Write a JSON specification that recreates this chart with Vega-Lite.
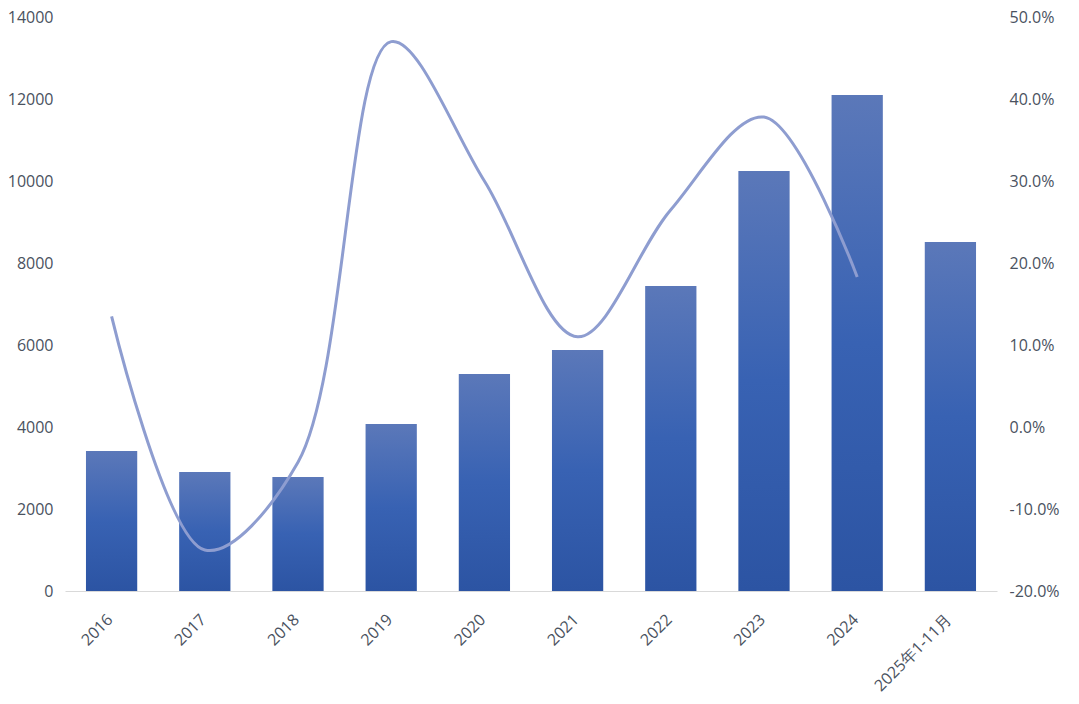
{
  "$schema": "https://vega.github.io/schema/vega-lite/v6.json",
  "autosize": "none",
  "width": 932,
  "height": 574,
  "padding": {"left": 65, "top": 17, "right": 82, "bottom": 113},
  "background": "white",
  "config": {
    "view": {"stroke": null},
    "font": "Open Sans",
    "axis": {"labelFont": "Open Sans", "labelColor": "#4a5260", "labelFontSize": 16, "grid": false, "ticks": false, "title": null, "labelOverlap": false, "labelFlush": false}
  },
  "data": {
    "values": [
      {"year": "2016", "value": 3415, "growth": 0.135},
      {"year": "2017", "value": 2900, "growth": -0.150},
      {"year": "2018", "value": 2780, "growth": -0.043},
      {"year": "2019", "value": 4073, "growth": 0.470},
      {"year": "2020", "value": 5293, "growth": 0.300},
      {"year": "2021", "value": 5878, "growth": 0.110},
      {"year": "2022", "value": 7439, "growth": 0.265},
      {"year": "2023", "value": 10244, "growth": 0.378},
      {"year": "2024", "value": 12098, "growth": 0.183},
      {"year": "2025年1-11月", "value": 8512, "growth": null}
    ]
  },
  "encoding": {
    "x": {
      "field": "year", "type": "ordinal", "sort": null,
      "scale": {"paddingInner": 0.45, "paddingOuter": 0.225},
      "axis": {"labelAngle": -45, "labelPadding": 20, "labelOffset": -7, "domainColor": "#d9d9d9", "domainWidth": 1}
    }
  },
  "layer": [
    {
      "mark": {
        "type": "bar",
        "color": {
          "gradient": "linear", "x1": 0, "y1": 0, "x2": 0, "y2": 1,
          "stops": [
            {"offset": 0, "color": "#5b78b9"},
            {"offset": 0.5, "color": "#3862b3"},
            {"offset": 1, "color": "#2c54a3"}
          ]
        }
      },
      "encoding": {
        "y": {
          "field": "value", "type": "quantitative",
          "scale": {"domain": [0, 14000], "nice": false},
          "axis": {"values": [0, 2000, 4000, 6000, 8000, 10000, 12000, 14000], "format": "d", "domain": false, "labelPadding": 12}
        }
      }
    },
    {
      "transform": [{"filter": "datum.growth != null"}],
      "mark": {"type": "line", "interpolate": "catmull-rom", "color": "#8e9dd0", "strokeWidth": 3},
      "encoding": {
        "y": {
          "field": "growth", "type": "quantitative",
          "scale": {"domain": [-0.2, 0.5], "nice": false},
          "axis": {"orient": "right", "values": [-0.2, -0.1, 0, 0.1, 0.2, 0.3, 0.4, 0.5], "format": ".1%", "labelExpr": "replace(datum.label, '\u2212', '-')", "domain": false, "labelPadding": 12}
        }
      }
    }
  ],
  "resolve": {"scale": {"y": "independent"}}
}
